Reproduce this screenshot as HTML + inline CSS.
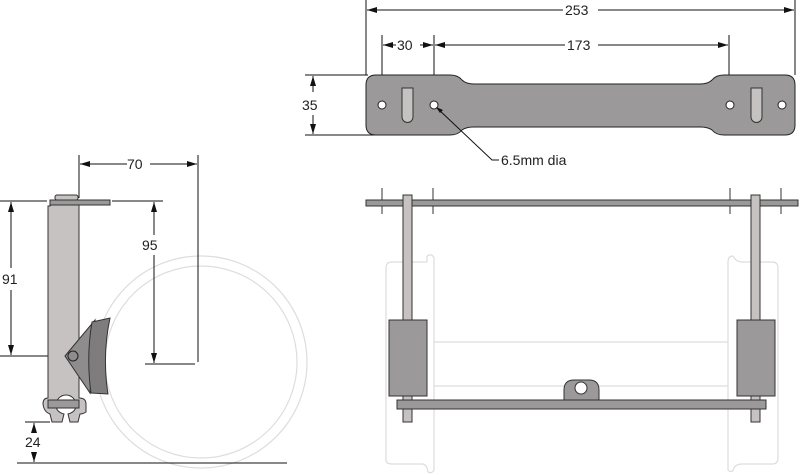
<!DOCTYPE html>
<html><head><style>html,body{margin:0;padding:0;background:#fff}svg{display:block}text{font-family:"Liberation Sans",sans-serif;font-size:14px;fill:#222}</style></head>
<body>
<svg width="800" height="475" viewBox="0 0 800 475" xmlns="http://www.w3.org/2000/svg">
<defs>
<marker id="a" viewBox="0 0 10 6" refX="10" refY="3" markerWidth="10" markerHeight="6" orient="auto-start-reverse"><path d="M0,0L10,3L0,6z" fill="#111"/></marker>
</defs>
<g stroke="#111" stroke-width="1" fill="none">
<line x1="366" y1="0" x2="366" y2="75"/><line x1="795" y1="0" x2="795" y2="75"/>
<line x1="367" y1="10" x2="563" y2="10" marker-start="url(#a)"/><line x1="598" y1="10" x2="794" y2="10" marker-end="url(#a)"/>
<line x1="382" y1="35" x2="382" y2="100"/><line x1="434" y1="35" x2="434" y2="100"/><line x1="729" y1="35" x2="729" y2="100"/>
<line x1="383" y1="45" x2="396" y2="45" marker-start="url(#a)"/><line x1="420" y1="45" x2="433" y2="45" marker-end="url(#a)"/>
<line x1="435" y1="45" x2="565" y2="45" marker-start="url(#a)"/><line x1="598" y1="45" x2="728" y2="45" marker-end="url(#a)"/>
<line x1="305" y1="75" x2="368" y2="75"/><line x1="305" y1="135" x2="378" y2="135"/>
<line x1="313" y1="76" x2="313" y2="92" marker-start="url(#a)"/><line x1="313" y1="115" x2="313" y2="134" marker-end="url(#a)"/>
</g>
<text x="565" y="15">253</text><text x="397" y="50">30</text><text x="567" y="50">173</text><text x="302" y="110">35</text><text x="501" y="165">6.5mm dia</text>
<path d="M376,75 H450 Q458,75 462,80 Q466,84 474,84 H700 Q708,84 712,80 Q716,75 724,75 H785 Q795,75 795,85 V125 Q795,135 785,135 H724 Q716,135 712,130 Q708,127 700,127 H474 Q466,127 462,130 Q458,135 450,135 H376 Q366,135 366,125 V85 Q366,75 376,75Z" fill="#9b999a" stroke="#222"/>
<g fill="#fff" stroke="#222"><circle cx="382" cy="105" r="4"/><circle cx="434" cy="105" r="4"/><circle cx="730" cy="105" r="4"/><circle cx="782" cy="105" r="4"/></g>
<g fill="#c6c2c2" stroke="#333"><path d="M402,88H413V117A5.5,5.5 0 0 1 402,117Z"/><path d="M751,88H762V117A5.5,5.5 0 0 1 751,117Z"/></g>
<g stroke="#111" fill="none"><polyline points="499,160 492,160 437,108"/></g>
<path d="M436,107 L443,110 L440,113Z" fill="#111"/>
<g fill="none" stroke="#ddd" stroke-width="1.2">
<path d="M427,256 V262 H392 Q386,262 386,268 V460 Q386,464 392,464 H422 Q427,464 428,472 Q432,474 434,470 V258 Q432,253 427,256"/>
<path d="M733,256 Q728,256 728,262 V470 Q732,474 734,468 Q736,464 742,464 H772 Q778,464 778,458 V268 Q778,262 772,262 H742 Q736,262 733,256"/>
<line x1="434" y1="342" x2="728" y2="342"/><line x1="434" y1="386" x2="728" y2="386"/>
</g>
<g stroke="#333">
<line x1="382" y1="188" x2="382" y2="214"/><line x1="433" y1="188" x2="433" y2="214"/><line x1="730" y1="188" x2="730" y2="214"/><line x1="781" y1="188" x2="781" y2="214"/>
</g>
<rect x="366" y="200" width="432" height="6" fill="#9b999a" stroke="#333"/>
<g fill="#c6c2c2" stroke="#333"><rect x="403" y="195" width="9" height="227"/><rect x="751" y="195" width="9" height="227"/></g>
<g fill="#9b999a" stroke="#333"><rect x="389" y="320" width="38" height="76"/><rect x="737" y="320" width="38" height="76"/>
<rect x="397" y="400" width="369" height="9"/>
<path d="M564,400 V390 Q564,380 574,380 H589 Q599,380 599,390 V400Z"/></g>
<circle cx="581" cy="388" r="6" fill="#fff" stroke="#333"/>
<g fill="none" stroke="#ddd" stroke-width="1.2"><circle cx="201" cy="362" r="106"/><circle cx="201" cy="362" r="96"/></g>
<g stroke="#111" fill="none">
<line x1="0" y1="201" x2="47" y2="201"/><line x1="112" y1="201" x2="163" y2="201"/>
<line x1="79" y1="155" x2="79" y2="198"/><line x1="198" y1="155" x2="198" y2="362"/>
<line x1="80" y1="164" x2="127" y2="164" marker-start="url(#a)"/><line x1="150" y1="164" x2="197" y2="164" marker-end="url(#a)"/>
<line x1="154" y1="202" x2="154" y2="235" marker-start="url(#a)"/><line x1="154" y1="255" x2="154" y2="363" marker-end="url(#a)"/>
<line x1="145" y1="364" x2="195" y2="364"/>
<line x1="11" y1="202" x2="11" y2="268" marker-start="url(#a)"/><line x1="11" y1="290" x2="11" y2="355" marker-end="url(#a)"/>
<line x1="0" y1="356" x2="68" y2="356"/>
<line x1="25" y1="422" x2="50" y2="422"/>
<line x1="17" y1="463" x2="287" y2="463"/>
<line x1="34" y1="423" x2="34" y2="432" marker-start="url(#a)"/><line x1="34" y1="452" x2="34" y2="462" marker-end="url(#a)"/>
</g>
<text x="127" y="169">70</text><text x="142" y="250">95</text><text x="2" y="284">91</text><text x="25" y="447">24</text>
<path d="M50,206 Q52,203 56,203 H79 V398 Q86,398 86,404 V412 Q83,414 80,414 L78,422 H70 L68,414 Q76,412 76,405 A10,10 0 0 0 56,405 Q56,412 64,414 L62,422 H52 L50,414 Q44,412 43,404 Q43,398 48,398 V206Z" fill="#c6c2c2" stroke="#333"/>
<rect x="55" y="195" width="23" height="5" rx="2" fill="#c6c2c2" stroke="#333"/>
<rect x="50" y="200" width="60" height="5" fill="#9b999a" stroke="#333"/>
<rect x="48" y="400" width="31" height="8" fill="#9b999a" stroke="#333"/>
<path d="M65,356 L95,320 L90,393Z" fill="#8e8c8c" stroke="#333"/>
<path d="M92,322 L110,318 Q102,356 108,394 L91,393 Q86,357 92,322Z" fill="#7e7c7c" stroke="#333"/>
<circle cx="73" cy="356" r="5" fill="#8e8c8c" stroke="#222"/>
</svg>
</body></html>
